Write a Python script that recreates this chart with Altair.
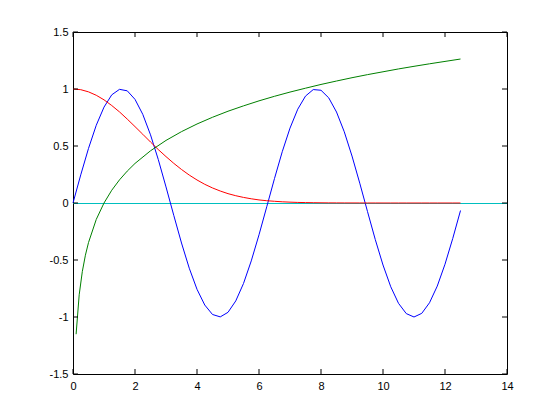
import altair as alt
import pandas as pd

x_sin = [0, 0.25, 0.5, 0.75, 1.0, 1.25, 1.5, 1.75, 2.0, 2.25, 2.5, 2.75, 3.0, 3.25, 3.5, 3.75,
         4.0, 4.25, 4.5, 4.75, 5.0, 5.25, 5.5, 5.75, 6.0, 6.25, 6.5, 6.75, 7.0, 7.25, 7.5, 7.75,
         8.0, 8.25, 8.5, 8.75, 9.0, 9.25, 9.5, 9.75, 10.0, 10.25, 10.5, 10.75, 11.0, 11.25, 11.5,
         11.75, 12.0, 12.25, 12.5]
blue = [0, 0.247, 0.479, 0.682, 0.841, 0.949, 0.997, 0.984, 0.909, 0.778, 0.598, 0.382, 0.141,
        -0.108, -0.351, -0.572, -0.757, -0.895, -0.978, -0.999, -0.959, -0.859, -0.706, -0.508,
        -0.279, -0.033, 0.215, 0.450, 0.657, 0.823, 0.938, 0.995, 0.989, 0.922, 0.798, 0.625,
        0.412, 0.174, -0.075, -0.320, -0.544, -0.735, -0.880, -0.970, -1.000, -0.968, -0.875,
        -0.729, -0.537, -0.311, -0.066]
red = [1.0, 0.994, 0.975, 0.945, 0.905, 0.855, 0.799, 0.736, 0.670, 0.603, 0.535, 0.469, 0.407,
       0.348, 0.294, 0.245, 0.202, 0.164, 0.132, 0.105, 0.082, 0.064, 0.049, 0.037, 0.027, 0.020,
       0.015, 0.0105, 0.0074, 0.005, 0.0036, 0.0025, 0.0017, 0.001, 0.0007, 0.0005, 0.0003,
       0.0002, 0.0001, 0.0001, 0, 0, 0, 0, 0, 0, 0, 0, 0, 0, 0]
x_log = [0.1, 0.2, 0.3, 0.4, 0.5, 0.75, 1.0, 1.25, 1.5, 1.75, 2.0, 2.5, 3.0, 3.5, 4.0, 4.5, 5.0,
         5.5, 6.0, 6.5, 7.0, 7.5, 8.0, 8.5, 9.0, 9.5, 10.0, 10.5, 11.0, 11.5, 12.0, 12.5]
green = [-1.151, -0.805, -0.602, -0.458, -0.347, -0.144, 0, 0.112, 0.203, 0.280, 0.347, 0.458,
         0.549, 0.626, 0.693, 0.752, 0.805, 0.852, 0.896, 0.936, 0.973, 1.007, 1.040, 1.070,
         1.099, 1.126, 1.151, 1.176, 1.199, 1.221, 1.242, 1.263]

x_ticks = [0, 2, 4, 6, 8, 10, 12, 14]
y_ticks = [-1.5, -1, -0.5, 0, 0.5, 1, 1.5]

W, H = 434, 342

df = pd.concat([
    pd.DataFrame({"x": x_sin, "y": blue, "s": "sin"}),
    pd.DataFrame({"x": x_sin, "y": red, "s": "gauss"}),
    pd.DataFrame({"x": x_log, "y": green, "s": "log"}),
])

xs = alt.Scale(domain=[0, 14], nice=False, zero=False)
ys = alt.Scale(domain=[-1.5, 1.5], nice=False, zero=False)

font = "Liberation Sans"
x_axis = alt.Axis(values=x_ticks, ticks=False, domain=False, grid=False, title=None,
                  labelFont=font, labelFontSize=11, labelColor="black", labelPadding=6,
                  labelFlush=False, labelExpr="datum.value + ''")
y_axis = alt.Axis(values=y_ticks, ticks=False, domain=False, grid=False, title=None,
                  labelFont=font, labelFontSize=11, labelColor="black", labelPadding=5,
                  labelFlush=False, labelExpr="datum.value + ''")

X = alt.X("x:Q", scale=xs, axis=x_axis)
Y = alt.Y("y:Q", scale=ys, axis=y_axis)

zero = alt.Chart(pd.DataFrame({"y": [0]})).mark_rule(
    color="#00BFBF", strokeWidth=1, yOffset=0.5).encode(y=Y)

lines = alt.Chart(df).mark_line(strokeWidth=1).encode(
    x=X,
    y=Y,
    color=alt.Color("s:N", scale=alt.Scale(domain=["sin", "gauss", "log"],
                                           range=["#0000FF", "#FF0000", "#008000"]), legend=None),
    detail="s:N",
)

xt = pd.DataFrame({"x": x_ticks})
yt = pd.DataFrame({"y": y_ticks})
tb = alt.Chart(xt).mark_rule(color="black").encode(x=X, y=alt.value(H), y2=alt.value(H - 5))
tt = alt.Chart(xt).mark_rule(color="black").encode(x=X, y=alt.value(0), y2=alt.value(5))
tl = alt.Chart(yt).mark_rule(color="black").encode(y=Y, x=alt.value(0), x2=alt.value(5))
tr = alt.Chart(yt).mark_rule(color="black").encode(y=Y, x=alt.value(W), x2=alt.value(W - 5))

chart = alt.layer(zero, lines, tb, tt, tl, tr).properties(
    width=W, height=H,
    padding={"left": 65, "top": 24, "right": 40, "bottom": 40},
    autosize=alt.AutoSizeParams(type="none"),
    background="white",
).configure_view(stroke="black", strokeWidth=1)

chart.save("out.html", embed_options={"renderer": "svg", "actions": False})
